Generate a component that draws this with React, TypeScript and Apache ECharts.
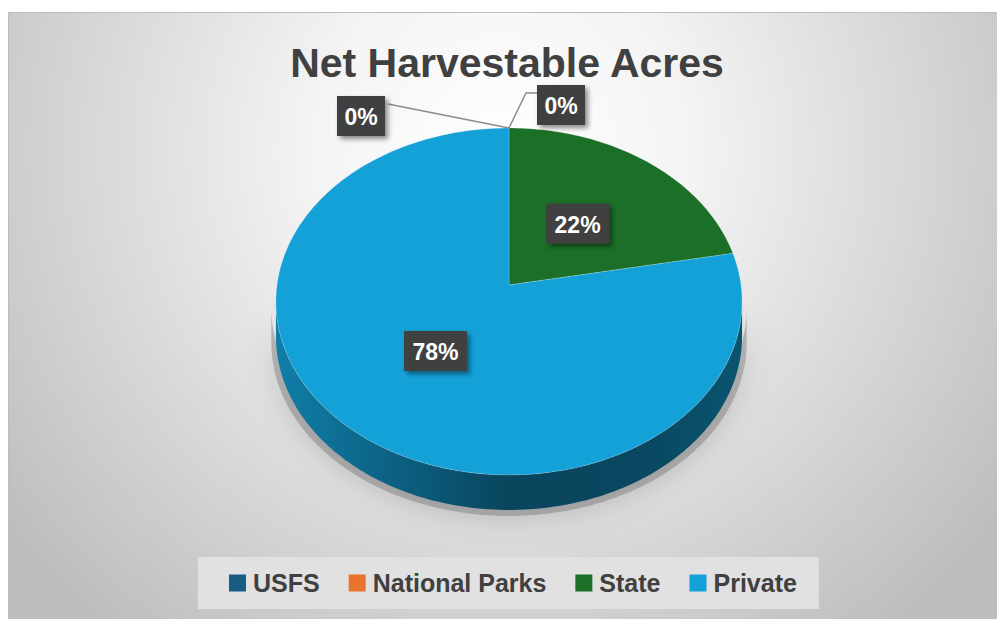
import React, { useEffect, useRef } from 'react';
import * as echarts from 'echarts';

// ---- data ----
const categories = ['USFS', 'National Parks', 'State', 'Private'];
const shares = [0, 0, 22, 78];
const titleText = 'Net Harvestable Acres';

// ---- styles / layout ----
const sliceColors = ['#175d84', '#e9722f', '#1b6f27', '#14a1d8'];
const FONT = '"Liberation Sans", Arial, sans-serif';
const CX = 509;
const CY = 285;
const RX = 232;
const RY = 171.9;
const K = 0.095;
const DEPTH = 35;
const LABEL_R = 0.48;
// layout of labels for empty slices (drawn outside with leader lines)
const outsideLabelLayout = [
  { dx: -148, dy: -12, line: [[0, 0], [-121, -24]] },
  { dx: 52, dy: -23, line: [[0, 0], [17, -35], [28, -35]] },
];

const total = shares.reduce((s, v) => s + v, 0);
const starts = shares.map((_, i) => shares.slice(0, i).reduce((s, v) => s + v, 0) / total);

function darken(hex: string, f: number): string {
  const n = parseInt(hex.slice(1), 16);
  const r = Math.round(((n >> 16) & 255) * f);
  const g = Math.round(((n >> 8) & 255) * f);
  const b = Math.round((n & 255) * f);
  return `rgb(${r},${g},${b})`;
}

function project(theta: number, r: number, drop: number): number[] {
  const u = Math.sin(theta);
  const v = Math.cos(theta);
  const w = 1 + K * v * r;
  return [CX + (r * RX * u) / w, CY - (r * RY * v) / w + drop];
}

function arcPoints(a0: number, a1: number, drop: number): number[][] {
  const n = Math.max(2, Math.ceil((a1 - a0) / 0.02));
  const pts: number[][] = [];
  for (let j = 0; j <= n; j++) pts.push(project(a0 + ((a1 - a0) * j) / n, 1, drop));
  return pts;
}

function makeRender(i: number) {
  return (params: any, api: any) => {
    const value = api.value(0) as number;
    const a0 = starts[i] * 2 * Math.PI;
    const a1 = a0 + (value / total) * 2 * Math.PI;
    const color = sliceColors[i];
    const children: any[] = [];

    const L = Math.acos(-K);
    const R = 2 * Math.PI - L;
    const s = Math.max(a0, L);
    const e = Math.min(a1, R);
    if (e > s) {
      const top = arcPoints(s, e, 0);
      const bottom = arcPoints(s, e, DEPTH).reverse();
      const pts = top.concat(bottom);
      // soft drop shadow around the side wall
      children.push({
        type: 'polygon',
        z2: 0,
        shape: {
          points: pts.map((p) => [CX + (p[0] - CX) * 1.02, p[1] + 6]),
        },
        style: {
          fill: 'rgba(90,90,90,0.35)',
          shadowBlur: 28,
          shadowColor: 'rgba(0,0,0,0.5)',
        },
      });
      children.push({
        type: 'polygon',
        z2: 1,
        shape: { points: pts },
        style: {
          fill: new echarts.graphic.LinearGradient(
            CX - RX, 0, CX + RX, 0,
            [
              { offset: 0, color: darken(color, 0.78) },
              { offset: 0.25, color: darken(color, 0.6) },
              { offset: 0.5, color: darken(color, 0.43) },
              { offset: 0.8, color: darken(color, 0.45) },
              { offset: 1, color: darken(color, 0.52) },
            ],
            true
          ),
        },
      });
    }
    if (a1 > a0) {
      children.push({
        type: 'polygon',
        z2: 5,
        shape: { points: [project(0, 0, 0)].concat(arcPoints(a0, a1, 0)) },
        style: { fill: color, stroke: 'rgba(255,255,255,0.2)', lineWidth: 1 },
      });
    }

    const pct = Math.round((value / total) * 100) + '%';
    let lx: number;
    let ly: number;
    if (value > 0) {
      const p = project((a0 + a1) / 2, LABEL_R, 0);
      lx = p[0];
      ly = p[1];
    } else {
      const zeroIndex = shares.slice(0, i).filter((v) => v === 0).length;
      const lay = outsideLabelLayout[zeroIndex % outsideLabelLayout.length];
      const sp = project(a0, 1, 0);
      lx = sp[0] + lay.dx;
      ly = sp[1] + lay.dy;
      children.push({
        type: 'polyline',
        z2: 20,
        shape: { points: lay.line.map((q) => [sp[0] + q[0], sp[1] + q[1]]) },
        style: { stroke: '#8c8c8c', lineWidth: 1.5, fill: null },
      });
    }
    const bw = 18 + 15 * pct.length;
    const bh = 40;
    children.push({
      type: 'rect',
      z2: 30,
      shape: { x: lx - bw / 2, y: ly - bh / 2, width: bw, height: bh },
      style: {
        fill: '#404040',
        shadowBlur: 5,
        shadowOffsetX: 3,
        shadowOffsetY: 3,
        shadowColor: 'rgba(0,0,0,0.45)',
      },
    });
    children.push({
      type: 'text',
      z2: 31,
      x: lx,
      y: ly + 1,
      style: {
        text: pct,
        fill: '#ffffff',
        fontFamily: FONT,
        fontSize: 23,
        fontWeight: 'bold',
        align: 'center',
        verticalAlign: 'middle',
      },
    });
    return { type: 'group', children };
  };
}

export default function App() {
  const ref = useRef<HTMLDivElement>(null);
  useEffect(() => {
    if (!ref.current) return;
    const chart = echarts.init(ref.current, undefined, { renderer: 'svg' });
    const option: any = {
      animation: false,
      graphic: [
        {
          type: 'rect',
          z: -10,
          silent: true,
          shape: { x: 8.5, y: 12.5, width: 1000, height: 620 },
          style: {
            fill: new echarts.graphic.RadialGradient(
              500, 150, 620,
              [
                { offset: 0, color: '#ffffff' },
                { offset: 0.3, color: '#f4f4f4' },
                { offset: 1, color: '#bdbdbd' },
              ],
              true
            ),
            stroke: '#bdbdbd',
            lineWidth: 1,
          },
        },
        {
          type: 'text',
          z: 10,
          x: 507,
          y: 63,
          style: {
            text: titleText,
            fill: '#404040',
            fontFamily: FONT,
            fontSize: 41,
            fontWeight: 'bold',
            align: 'center',
            verticalAlign: 'middle',
          },
        },
      ],
      legend: {
        data: categories,
        left: 198,
        top: 557,
        orient: 'horizontal',
        icon: 'rect',
        itemWidth: 17,
        itemHeight: 17,
        itemGap: 29,
        padding: [11, 22, 11, 31],
        backgroundColor: '#e1e1e1',
        selectedMode: false,
        textStyle: {
          fontFamily: FONT,
          fontSize: 25,
          fontWeight: 'bold',
          color: '#404040',
          lineHeight: 30,
          padding: [0, 0, 0, 2],
        },
      },
      series: categories.map((name, i) => ({
        type: 'custom',
        name,
        coordinateSystem: 'none',
        silent: true,
        itemStyle: { color: sliceColors[i] },
        data: [[shares[i]]],
        renderItem: makeRender(i),
      })),
    };
    chart.setOption(option);
    return () => chart.dispose();
  }, []);
  return (
    <div
      ref={ref}
      style={{ position: 'absolute', left: 0, top: 0, width: 997, height: 619, background: '#ffffff' }}
    />
  );
}
